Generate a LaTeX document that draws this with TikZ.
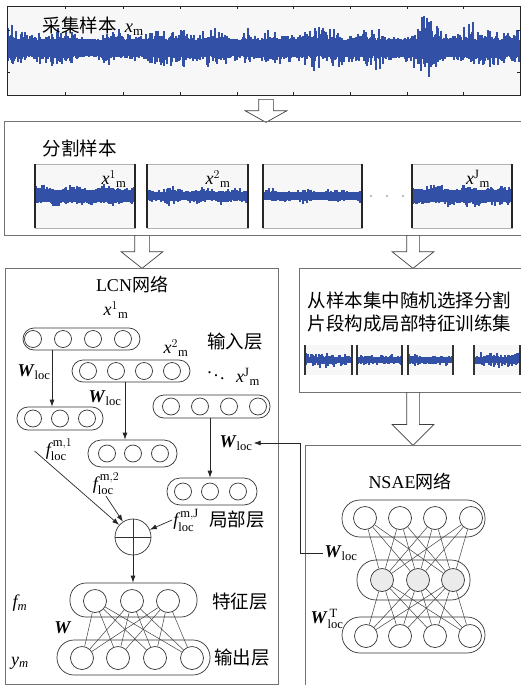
\documentclass[tikz,border=0pt]{standalone}
\usepackage{amsmath,amssymb}
\usepackage{fontspec}
\setmainfont{Liberation Serif}
\newfontfamily\cjk{Noto Sans CJK SC}
\usetikzlibrary{arrows.meta, positioning, calc, shapes.arrows}
\definecolor{sigblue}{RGB}{50,80,165}

\begin{document}
\begin{tikzpicture}[x=1pt, y=-1pt,
				font=\fontsize{18}{21}\selectfont,
				panel/.style={draw=black!55, line width=0.8pt},
				plotbg/.style={fill=black!3, draw=black!30, line width=0.5pt},
				plotside/.style={draw=black!85, line width=1.6pt},
				sig/.style={draw=sigblue, line width=1.2pt},
				capsule/.style={rectangle, draw=black!80, line width=0.7pt, rounded corners=11pt, inner sep=0pt},
				neuron/.style={circle, draw=black!80, line width=0.7pt, minimum size=17pt, inner sep=0pt},
				bigneuron/.style={neuron, minimum size=23pt},
				hiddenneuron/.style={bigneuron, fill=black!8},
				arrow/.style={-{Latex[length=7pt,width=5pt]}, draw=black!85, line width=0.7pt},
				link/.style={draw=black!75, line width=0.5pt},
				hollowarrow/.style={single arrow, draw=black!75, fill=white, line width=0.7pt, inner xsep=0pt,
					inner ysep=7pt, single arrow head extend=13.5pt, rotate=-90, anchor=tail},
				cn/.style={font=\cjk\fontsize{18.5}{23}\selectfont},
				sym/.style={inner sep=1pt}
				]
				\useasboundingbox (0,0) rectangle (521,685);
				\pgfmathsetseed{11}
				
				% --- Top: collected sample ---
				\fill[black!3] (7,6) rectangle (520,95);
				\foreach \x in {8,...,519}{
					\pgfmathsetmacro\a{11+5*sin(7*\x)+4*sin(2.3*\x+40)+18*max(0,1-abs(\x-425)/22)+16*max(0,1-abs(\x-246)/6)}
					\pgfmathsetmacro\lo{48-8-\a*rnd*rnd}
					\pgfmathsetmacro\hi{48+8+\a*rnd*rnd}
					\draw[sig] (\x,\lo) -- (\x,\hi);
				}
				\draw[black!85, line width=0.9pt] (7,6) rectangle (520,95);
				\foreach \t in {65,123,180,237,293,350,407,463}
				\draw[black!85, line width=0.9pt] (\t,6) -- (\t,9) (\t,95) -- (\t,92);
				\foreach \t in {30,72}
				\draw[black!85, line width=0.9pt] (7,\t) -- (10,\t) (520,\t) -- (517,\t);
				\node[cn, anchor=west] (raw) at (39,26) {采集样本\ \ {\rmfamily $\mathit{x}_{\mathrm{m}}$}};
				\node[hollowarrow, minimum height=23pt, single arrow tip angle=122] (ar1) at (266,99) {};
				
				% --- Second row: split samples ---
				\draw[panel] (521,121) -- (4,121) -- (4,235) -- (521,235);
				\node[cn, anchor=west] (seg) at (39,148) {分割样本};
				\foreach \xa/\xb/\core/\amp in {35/135/5.5/9,147/248/4/7,263/362/3.5/6,412/512/5.5/10}{
					\draw[plotbg] (\xa,164) rectangle (\xb,228);
					\foreach \x in {\xa,...,\xb}{
						\pgfmathsetmacro\lo{196-\core-\amp*(0.6+0.4*sin(11*\x))*rnd*rnd}
						\pgfmathsetmacro\hi{196+\core+\amp*(0.6+0.4*sin(13*\x+50))*rnd*rnd}
						\draw[sig] (\x,\lo) -- (\x,\hi);
					}
					\draw[plotside] (\xa,164) -- (\xa,228) (\xb,164) -- (\xb,228);
				}
				\node[sym] (s1) at (114,179) {$\mathit{x}^{1}{}_{\mathrm{m}}$};
				\node[sym] (s2) at (218,179) {$\mathit{x}^{2}{}_{\mathrm{m}}$};
				\node[sym] (sJ) at (478,179) {$\mathit{x}^{\mathrm{J}}{}_{\mathrm{m}}$};
				\foreach \t in {371,387,403} \fill[black!35] (\t,196) circle (1.1pt);
				\node[hollowarrow, minimum height=33pt, single arrow tip angle=103] (ar2) at (142,235) {};
				\node[hollowarrow, minimum height=33pt, single arrow tip angle=103, inner ysep=6pt, single arrow head extend=14.5pt] (ar3) at (413,235) {};
				
				% --- Left: LCN network ---
				\draw[panel] (5,268) rectangle (278,684);
				\node (lcn) at (132,285) {LCN{\cjk 网络}};
				\node[capsule, minimum width=117pt, minimum height=22pt] (r1) at (81.5,339) {};
				\foreach \i/\x in {1/33,2/63,3/93,4/123} \node[neuron] (r1\i) at (\x,339) {};
				\node[capsule, minimum width=118pt, minimum height=22pt] (r2) at (131,371) {};
				\foreach \i/\x in {1/88,2/116,3/144,4/172} \node[neuron] (r2\i) at (\x,371) {};
				\node[capsule, minimum width=117pt, minimum height=23pt] (r3) at (211.5,406.5) {};
				\foreach \i/\x in {1/171,2/200,3/229,4/258} \node[neuron] (r3\i) at (\x,406.5) {};
				\node[sym] (x1) at (116,310) {$\mathit{x}^{1}{}_{\mathrm{m}}$};
				\node[sym] (x2) at (176,348) {$\mathit{x}^{2}{}_{\mathrm{m}}$};
				\node[sym] (dd) at (216,373) {$\ddots$};
				\node[sym] (xJ) at (248,377) {$\mathit{x}^{\mathrm{J}}{}_{\mathrm{m}}$};
				\node[cn] (inl) at (235,342) {输入层};
				
				\node[capsule, minimum width=86pt, minimum height=23pt] (l1) at (60,418.5) {};
				\foreach \i/\x in {1/33,2/60,3/87} \node[neuron] (l1\i) at (\x,418.5) {};
				\node[capsule, minimum width=89pt, minimum height=27pt, rounded corners=13pt] (l2) at (132.5,453.5) {};
				\foreach \i/\x in {1/107,2/133,3/160} \node[neuron] (l2\i) at (\x,453.5) {};
				\node[capsule, minimum width=90pt, minimum height=27pt, rounded corners=13pt] (l3) at (212,491.5) {};
				\foreach \i/\x in {1/183,2/210,3/238} \node[neuron] (l3\i) at (\x,491.5) {};
				
				\node[sym] (w1) at (34,372) {\textbf{\textit{W}}$_{\mathrm{loc}}$};
				\node[sym] (w2) at (105,398) {\textbf{\textit{W}}$_{\mathrm{loc}}$};
				\node[sym] (w3) at (236,443) {\textbf{\textit{W}}$_{\mathrm{loc}}$};
				\coordinate (d1) at (52,0);
				\coordinate (d2) at (125,0);
				\coordinate (d3) at (210,0);
				\draw[arrow] (d1 |- r1.south) -- (d1 |- l1.north);
				\draw[arrow] (d2 |- r2.south) -- (d2 |- l2.north);
				\draw[arrow] (d3 |- r3.south) -- (d3 |- l3.north);
				
				\node[sym] (fl1) at (59,450) {$\mathit{f}^{\,\mathrm{m},1}_{\mathrm{loc}}$};
				\node[sym] (fl2) at (106,484) {$\mathit{f}^{\,\mathrm{m},2}_{\mathrm{loc}}$};
				\node[sym] (fl3) at (186,520) {$\mathit{f}^{\,\mathrm{m},\mathrm{J}}_{\mathrm{loc}}$};
				\node[cn] (locl) at (237,520) {局部层};
				
				\node[circle, draw=black!80, line width=0.7pt, minimum size=36pt, inner sep=0pt] (sum) at (133,537) {};
				\draw[black!80, line width=0.7pt] (sum.north) -- (sum.south) (sum.west) -- (sum.east);
				\draw[arrow] ([xshift=-10pt,yshift=-1pt]fl1.west) -- (sum);
				\draw[arrow] (fl2.south) -- (sum);
				\draw[arrow] (fl3.west) -- (sum);
				
				\node[capsule, minimum width=127pt, minimum height=34pt, rounded corners=16pt] (fm) at (133.5,600) {};
				\foreach \i/\x in {1/95,2/132,3/168} \node[bigneuron] (fm\i) at (\x,601) {};
				\node[capsule, minimum width=153pt, minimum height=35pt, rounded corners=17pt] (ym) at (133.5,657.5) {};
				\foreach \i/\x in {1/82,2/118,3/155,4/192} \node[bigneuron] (ym\i) at (\x,658) {};
				\foreach \i in {1,2,3} \foreach \j in {1,...,4} \draw[link] (fm\i) -- (ym\j);
				\draw[arrow] (sum.south) -- (sum.south |- fm.north);
				
				\node[sym] (fmlab) at (20,603) {$\mathit{f}_{\mathit{m}}$};
				\node[sym] (wlab) at (63,628) {\textbf{\textit{W}}};
				\node[sym] (ymlab) at (20,663) {$\mathit{y}_{\mathit{m}}$};
				\node[cn] (featl) at (240,602) {特征层};
				\node[cn] (outl) at (242,658) {输出层};
				
				% --- Right: training set and NSAE ---
				\draw[panel] (521,268) -- (299,268) -- (299,392) -- (521,392);
				\node[cn, anchor=west, align=left] (pick) at (304,311.5) {从样本集中随机选择分割\\片段构成局部特征训练集};
				\foreach \xa/\xb/\amp in {305/352/6,357/402/4,408/453/4,474/520/6}{
					\fill[black!3] (\xa,345) rectangle (\xb,375);
					\foreach \x in {\xa,...,\xb}{
						\pgfmathsetmacro\lo{360-2.5-\amp*rnd*rnd}
						\pgfmathsetmacro\hi{360+2.5+\amp*rnd*rnd}
						\draw[sig] (\x,\lo) -- (\x,\hi);
					}
					\draw[draw=black!80, line width=1.2pt] (\xa,345) -- (\xa,375) (\xb,345) -- (\xb,375);
				}
				\node[hollowarrow, minimum height=53pt, single arrow tip angle=90, inner ysep=6pt, single arrow head extend=14.5pt] (ar4) at (413,392) {};
				
				\draw[panel] (521,445) -- (305,445) -- (305,685);
				\node (nsae) at (410,482) {NSAE{\cjk 网络}};
				\node[capsule, minimum width=143pt, minimum height=37pt, rounded corners=18pt] (n1) at (413.5,518.5) {};
				\node[capsule, minimum width=113pt, minimum height=40pt, rounded corners=19pt] (n2) at (413.5,580) {};
				\node[capsule, minimum width=143pt, minimum height=36pt, rounded corners=18pt] (n3) at (413.5,635) {};
				\foreach \i/\x in {1/365,2/400,3/435,4/471} \node[bigneuron] (a\i) at (\x,518) {};
				\foreach \i/\x in {1/382,2/418,3/453} \node[hiddenneuron] (b\i) at (\x,580) {};
				\foreach \i/\x in {1/366,2/400,3/435,4/470} \node[bigneuron] (c\i) at (\x,636) {};
				\foreach \i in {1,...,4} \foreach \j in {1,2,3} \draw[link] (a\i) -- (b\j) (b\j) -- (c\i);
				\node[sym] (w4) at (341,553) {\textbf{\textit{W}}$_{\mathrm{loc}}$};
				\node[sym] (w5) at (327,619) {\textbf{\textit{W}}$^{\,\mathrm{T}}_{\mathrm{loc}}$};
				
				% --- Shared weights back to the LCN ---
				\coordinate (fb) at (300,0);
				\draw[arrow] (w4.west) -- (fb |- w4.west) -- (fb |- w3.east) -- (w3.east);
			\end{tikzpicture}
\end{document}
